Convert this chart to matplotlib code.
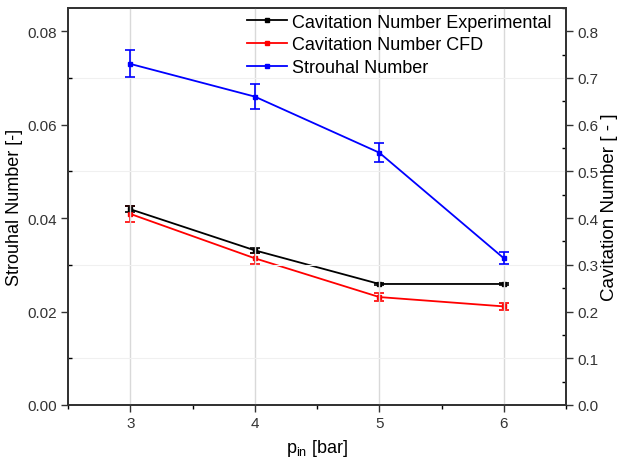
import numpy as np
import matplotlib
matplotlib.use('Agg')
import matplotlib.pyplot as plt
from matplotlib.ticker import MultipleLocator
from matplotlib.lines import Line2D

plt.rcParams.update({
    'font.family': 'sans-serif',
    'font.sans-serif': ['Liberation Sans', 'DejaVu Sans'],
    'font.size': 11,
    'mathtext.fontset': 'custom',
    'mathtext.rm': 'Liberation Sans',
    'mathtext.it': 'Liberation Sans:italic',
})

# Data
p_in = [3, 4, 5, 6]
strouhal = [0.0730, 0.0660, 0.0540, 0.0314]
strouhal_err = [0.0029, 0.0027, 0.0021, 0.0013]
cav_exp = [0.419, 0.331, 0.259, 0.259]
cav_exp_err = [0.007, 0.005, 0.003, 0.003]
cav_cfd = [0.409, 0.314, 0.231, 0.211]
cav_cfd_err = [0.017, 0.012, 0.009, 0.008]
labels = ['Cavitation Number Experimental', 'Cavitation Number CFD', 'Strouhal Number']
colors = ['black', 'red', 'blue']

fig = plt.figure(figsize=(6.18, 4.64), dpi=100)
ax = fig.add_axes([0.110, 0.125, 0.806, 0.856])
ax2 = ax.twinx()

# grid
for x in p_in:
    ax.axvline(x, color='#d9d9d9', lw=1.0, zorder=0)
for y in [0.01, 0.03, 0.05, 0.07]:
    ax.axhline(y, color='#f0f0f0', lw=0.8, zorder=0)

eb_kw = dict(lw=1.3, marker='s', markersize=3, capsize=3.5, elinewidth=1.2, capthick=1.2)
ax2.errorbar(p_in, cav_cfd, yerr=cav_cfd_err, color=colors[1], **eb_kw)
ax2.errorbar(p_in, cav_exp, yerr=cav_exp_err, color=colors[0], **eb_kw)
ax.errorbar(p_in, strouhal, yerr=strouhal_err, color=colors[2], **eb_kw)

ax.set_xlim(2.5, 6.5)
ax.set_ylim(0, 0.085)
ax2.set_ylim(0, 0.85)

ax.set_xticks(p_in)
ax.xaxis.set_minor_locator(MultipleLocator(0.5))
ax.yaxis.set_major_locator(MultipleLocator(0.02))
ax.yaxis.set_minor_locator(MultipleLocator(0.01))
ax2.yaxis.set_major_locator(MultipleLocator(0.1))
ax2.yaxis.set_minor_locator(MultipleLocator(0.05))
ax.yaxis.set_major_formatter(plt.FormatStrFormatter('%.2f'))
ax2.yaxis.set_major_formatter(plt.FormatStrFormatter('%.1f'))

ax.tick_params(which='major', direction='out', length=5, width=1, labelsize=11,
               colors='#333333', pad=3)
ax.tick_params(axis='x', which='minor', direction='out', length=3, width=1)
ax.tick_params(axis='y', which='minor', direction='in', length=3, width=1)
ax2.tick_params(which='major', direction='out', length=5, width=1, labelsize=11,
                colors='#333333', pad=3)
ax2.tick_params(which='minor', direction='in', length=3, width=1)

for a in (ax, ax2):
    for s in a.spines.values():
        s.set_linewidth(1.3)
        s.set_color('#333333')

ax.set_xlabel(r'p$_{\mathrm{in}}$ [bar]', fontsize=13, labelpad=5)
ax.set_ylabel('Strouhal Number [-]', fontsize=13, labelpad=3)
ax2.set_ylabel('Cavitation Number [ - ]', fontsize=13.5, labelpad=2)

handles = [Line2D([], [], color=c, lw=1.3, marker='s', markersize=3) for c in colors]
ax.legend(handles, labels, loc='upper right', bbox_to_anchor=(0.995, 1.015),
          frameon=False, fontsize=13, handlelength=2.2, handletextpad=0.3,
          labelspacing=0.32, borderaxespad=0.25)
ax.set_zorder(ax2.get_zorder() + 1)
ax.patch.set_visible(False)

fig.savefig('out.png', dpi=100, facecolor='white')
